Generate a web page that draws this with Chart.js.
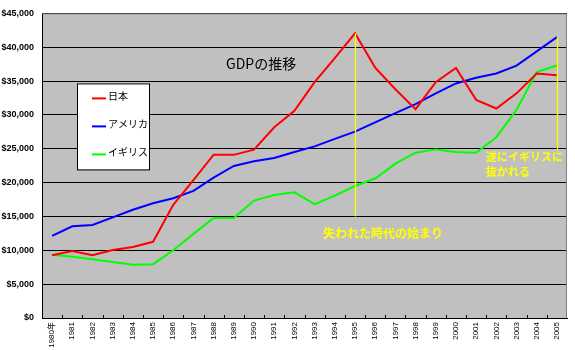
<!DOCTYPE html>
<html lang="ja">
<head>
<meta charset="UTF-8" />
<title>GDPの推移</title>
<script src="https://cdn.jsdelivr.net/npm/chart.js"></script>
<style>
  html,body{margin:0;padding:0;background:#fff}
  #wrap{width:575px;height:350px;overflow:hidden}
</style>
</head>
<body>
<div id="wrap"><canvas id="gdp" width="575" height="350"></canvas></div>
<script>
/* ---------- data ---------- */
const years = ['1980年','1981','1982','1983','1984','1985','1986','1987','1988','1989','1990','1991','1992',
               '1993','1994','1995','1996','1997','1998','1999','2000','2001','2002','2003','2004','2005'];
const japan = [9270,9900,9270,10040,10480,11260,16720,20380,24120,24100,24860,28170,30610,
               34850,38400,42060,36990,33800,30850,34850,36950,32220,30950,33190,36110,35870];
const usa   = [12140,13550,13750,14870,15990,16960,17690,18770,20750,22470,23150,23640,24520,
               25350,26460,27540,28900,30270,31590,33190,34650,35480,36120,37280,39380,41500];
const uk    = [9360,9060,8680,8290,7850,7950,10000,12430,14770,14770,17350,18180,18570,
               16820,18090,19500,20610,22810,24420,24910,24520,24420,26710,30760,36340,37300];
const seriesNames = ['日本','アメリカ','イギリス'];

/* annotations: year index, line from / to (value), text lines */
const noteIdx   = [15, 25];
const noteFrom  = [42060, 41500];
const noteTo    = [15000, 24700];
const noteTexts = [['失われた時代の始まり'], ['遂にイギリスに','抜かれる']];
const noteTextY = [[12450], [23800, 21600]];

const jpFont = '"Noto Sans CJK JP", sans-serif';

/* ---------- plugin: plot background, borders, notes, title, legend ---------- */
const decor = {
  id:'decor',
  beforeDraw(chart){
    const {ctx, chartArea:a} = chart;
    ctx.save();
    ctx.fillStyle = '#c0c0c0';
    ctx.fillRect(a.left, a.top, a.right-a.left, a.bottom-a.top);
    ctx.restore();
  },
  afterDatasetsDraw(chart){
    const {ctx, chartArea:a, scales:{x,y}} = chart;
    ctx.save();
    // top / right frame
    ctx.strokeStyle = '#808080'; ctx.lineWidth = 1;
    ctx.beginPath();
    ctx.moveTo(a.left, a.top+0.5); ctx.lineTo(a.right-0.5, a.top+0.5); ctx.lineTo(a.right-0.5, a.bottom);
    ctx.stroke();
    // x tick marks between categories, inside the plot
    ctx.strokeStyle = '#000';
    const step = (a.right-a.left)/years.length;
    for(let i=1;i<years.length;i++){
      const px = Math.round(a.left + step*i)+0.5;
      ctx.beginPath(); ctx.moveTo(px, a.bottom); ctx.lineTo(px, a.bottom-3); ctx.stroke();
    }
    // yellow notes
    ctx.strokeStyle = '#ffff00'; ctx.fillStyle = '#ffff00'; ctx.lineWidth = 1.3;
    noteIdx.forEach((idx,k)=>{
      const px = Math.round(x.getPixelForValue(idx))+0.5;
      ctx.beginPath();
      ctx.moveTo(px, y.getPixelForValue(noteFrom[k]));
      ctx.lineTo(px, y.getPixelForValue(noteTo[k]));
      ctx.stroke();
    });
    ctx.textBaseline = 'middle'; ctx.textAlign = 'left';
    ctx.font = 'bold 12px ' + jpFont;
    ctx.fillText(noteTexts[0][0], x.getPixelForValue(noteIdx[0]) - 32, y.getPixelForValue(noteTextY[0][0]));
    ctx.font = 'bold 11px ' + jpFont;
    noteTexts[1].forEach((t,j)=>{
      ctx.fillText(t, x.getPixelForValue(noteIdx[1]) - 71, y.getPixelForValue(noteTextY[1][j]));
    });
    // title inside plot
    ctx.fillStyle = '#000';
    ctx.font = '14px ' + jpFont;
    ctx.fillText('GDPの推移', a.left + 184, a.top + 50);
    // legend box
    const lx = a.left + 35, ly = a.top + 70, lw = 72, lh = 86;
    ctx.fillStyle = '#fff'; ctx.fillRect(lx, ly, lw, lh);
    ctx.lineWidth = 1;
    ctx.strokeStyle = '#000'; ctx.strokeRect(lx+0.5, ly+0.5, lw, lh);
    ctx.font = '10px ' + jpFont;
    chart.data.datasets.forEach((ds,i)=>{
      const ry = ly + 15 + i*28;
      ctx.strokeStyle = ds.borderColor; ctx.lineWidth = 2;
      ctx.beginPath(); ctx.moveTo(lx+15, ry); ctx.lineTo(lx+29, ry); ctx.stroke();
      ctx.fillStyle = '#000';
      ctx.fillText(ds.label, lx+31, ry - 2);
    });
    ctx.restore();
  }
};

/* ---------- chart ---------- */
const mk = (label, data, color) => ({label, data, borderColor:color, backgroundColor:color,
  borderWidth:2, pointRadius:0, tension:0, fill:false});

new Chart(document.getElementById('gdp'), {
  type:'line',
  data:{
    labels:years,
    datasets:[ mk(seriesNames[0], japan, '#ff0000'),
               mk(seriesNames[1], usa,   '#0000ff'),
               mk(seriesNames[2], uk,    '#00ff00') ]
  },
  options:{
    responsive:false, animation:false, devicePixelRatio:1,
    layout:{padding:{top:9, right:8, left:0, bottom:0}},
    plugins:{legend:{display:false}, tooltip:{enabled:false}},
    scales:{
      x:{
        offset:true,
        grid:{offset:true, drawOnChartArea:false, drawTicks:false},
        border:{color:'#000', width:1},
        ticks:{minRotation:90, maxRotation:90, autoSkip:false, padding:4, color:'#000',
               font:{family:'Arial, "Liberation Sans", ' + jpFont, size:8}},
        afterFit(s){ s.height = 32; }
      },
      y:{
        min:0, max:45000,
        grid:{color:'#000', lineWidth:1, drawTicks:false},
        border:{color:'#000', width:1},
        ticks:{stepSize:5000, padding:8, color:'#000',
               font:{family:'Arial, "Liberation Sans", sans-serif', size:9, weight:'bold'},
               callback:v=>'$' + v.toLocaleString('en-US')},
        afterFit(s){ s.width = 42; }
      }
    }
  },
  plugins:[decor]
});
</script>
</body>
</html>
